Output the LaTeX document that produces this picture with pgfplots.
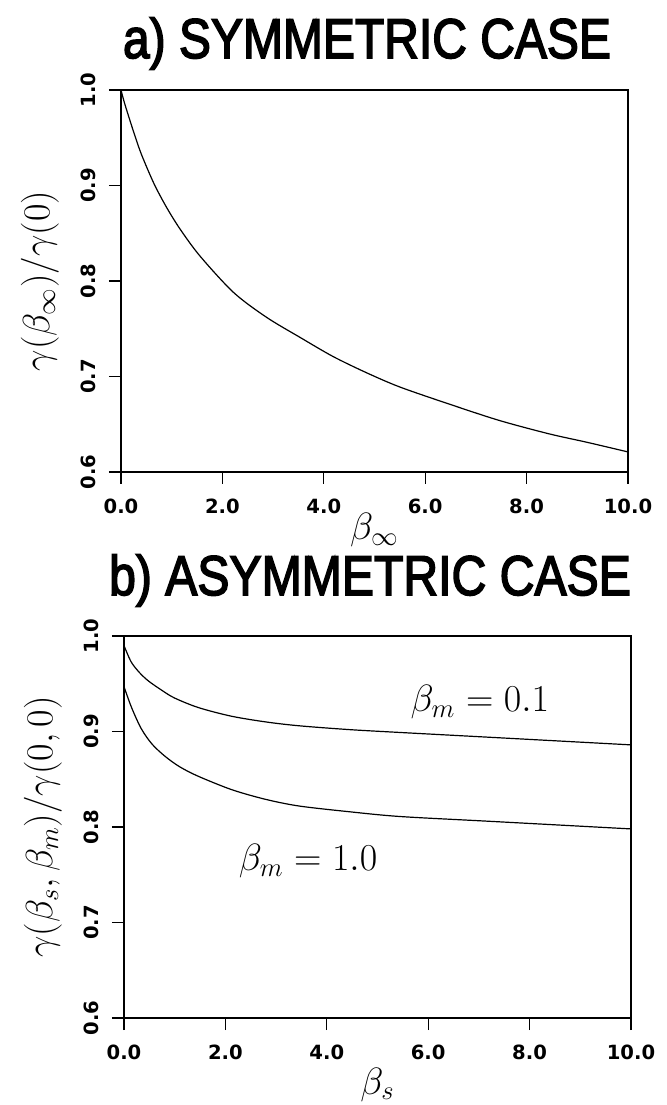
\RequirePackage{fix-cm}
\documentclass[border=0pt]{standalone}
\usepackage{fontspec}
\usepackage{graphicx}
\usepackage{pgfplots}
\pgfplotsset{compat=1.18}
\newfontfamily\titlefont{Liberation Sans}[FakeBold=3]
\newfontfamily\tickfont{DejaVu Sans}

% two panels, same frame
\pgfplotsset{
  panel/.style={
    scale only axis, width=253.5pt, height=191pt,
    xmin=0, xmax=10, ymin=0.6, ymax=1.0,
    xtick={0,2,4,6,8,10}, ytick={0.6,0.7,0.8,0.9,1.0},
    xticklabels={0.0,2.0,4.0,6.0,8.0,10.0},
    yticklabels={0.6,0.7,0.8,0.9,1.0},
    tick align=outside, xtick pos=left, ytick pos=left,
    major tick length=6pt,
    axis line style={line width=1pt},
    every tick/.style={black, line width=0.6pt},
    ticklabel style={font=\tickfont\bfseries\fontsize{9.8}{10}\selectfont},
    yticklabel style={rotate=90, anchor=south, yshift=3pt},
    xticklabel style={yshift=-4pt},
    label style={font=\fontsize{19}{22}\selectfont},
    ylabel style={at={(axis description cs:0,0.5)}, anchor=center, yshift=40.5pt},
    xlabel style={at={(axis description cs:0.5,0)}, anchor=base},
  },
  curve/.style={black, line width=0.6pt, smooth, tension=0.5, mark=none},
}

\begin{document}
\begin{tikzpicture}
\useasboundingbox (0,0) rectangle (333.5pt,552.5pt);

% a) symmetric
\begin{axis}[panel, at={(60.5pt,316.5pt)}, anchor=south west,
  xlabel={$\beta_\infty$}, ylabel={$\gamma(\beta_\infty)/\gamma(0)$},
  xlabel style={yshift=-34pt}]
\addplot[curve] coordinates {
 (0,1.0) (0.05,0.990) (0.1,0.981) (0.25,0.956) (0.4,0.933) (0.65,0.902)
 (0.9,0.877) (1.17,0.854) (1.56,0.826)
 (2.22,0.788) (2.87,0.762) (3.53,0.741) (4.18,0.721) (4.84,0.704)
 (5.5,0.689) (6.48,0.671) (7.46,0.654) (8.44,0.640) (9.2,0.631) (10,0.621)
};
\end{axis}

% b) asymmetric
\begin{axis}[panel, at={(62pt,43.5pt)}, anchor=south west,
  xlabel={$\beta_s$}, ylabel={$\gamma(\beta_s,\beta_m)/\gamma(0,0)$},
  xlabel style={yshift=-38pt}]
\addplot[curve] coordinates {
 (0,0.990) (0.14,0.973) (0.3,0.962) (0.48,0.953) (0.75,0.943) (1.0,0.935)
 (1.47,0.925) (2.12,0.916) (2.8,0.910)
 (3.45,0.906) (4.44,0.902) (5.44,0.899) (7.2,0.894) (10,0.886)
};
\addplot[curve] coordinates {
 (0,0.947) (0.15,0.925) (0.34,0.903) (0.55,0.887) (0.81,0.874) (1.1,0.863)
 (1.47,0.853) (2.13,0.839)
 (2.79,0.829) (3.45,0.822) (4.44,0.816) (5.44,0.811) (7.2,0.806) (10,0.798)
};
\node[font=\fontsize{19}{22}\selectfont] at (axis cs:7.02,0.931) {$\beta_m = 0.1$};
\node[font=\fontsize{19}{22}\selectfont] at (axis cs:3.63,0.764) {$\beta_m = 1.0$};
\end{axis}

\node[anchor=base, font=\titlefont\fontsize{28}{30}\selectfont]
  at (183.5pt,523.5pt) {\scalebox{0.857}[1]{a) SYMMETRIC CASE}};
\node[anchor=base, font=\titlefont\fontsize{28}{30}\selectfont]
  at (185pt,255pt) {\scalebox{0.86}[1]{b) ASYMMETRIC CASE}};
\end{tikzpicture}
\end{document}
